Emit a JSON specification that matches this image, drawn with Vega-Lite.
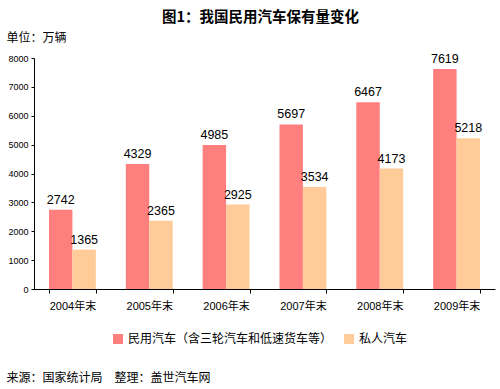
{
  "$schema": "https://vega.github.io/schema/vega-lite/v6.json",
  "width": 461,
  "height": 231,
  "autosize": {"type": "none"},
  "padding": {"left": 34, "top": 58, "right": 5, "bottom": 100},
  "background": "white",
  "config": {
    "font": "Liberation Sans, Noto Sans CJK SC",
    "view": {"stroke": null}
  },
  "title": {
    "text": "图1：我国民用汽车保有量变化",
    "anchor": "start",
    "dx": 156,
    "offset": 6,
    "fontSize": 14.5,
    "fontWeight": "bold",
    "font": "Noto Sans CJK SC",
    "color": "#000000"
  },
  "data": {
    "values": [
      {"year": "2004年末", "series": "民用汽车（含三轮汽车和低速货车等）", "value": 2742},
      {"year": "2004年末", "series": "私人汽车", "value": 1365},
      {"year": "2005年末", "series": "民用汽车（含三轮汽车和低速货车等）", "value": 4329},
      {"year": "2005年末", "series": "私人汽车", "value": 2365},
      {"year": "2006年末", "series": "民用汽车（含三轮汽车和低速货车等）", "value": 4985},
      {"year": "2006年末", "series": "私人汽车", "value": 2925},
      {"year": "2007年末", "series": "民用汽车（含三轮汽车和低速货车等）", "value": 5697},
      {"year": "2007年末", "series": "私人汽车", "value": 3534},
      {"year": "2008年末", "series": "民用汽车（含三轮汽车和低速货车等）", "value": 6467},
      {"year": "2008年末", "series": "私人汽车", "value": 4173},
      {"year": "2009年末", "series": "民用汽车（含三轮汽车和低速货车等）", "value": 7619},
      {"year": "2009年末", "series": "私人汽车", "value": 5218}
    ]
  },
  "encoding": {
    "x": {
      "field": "year",
      "type": "nominal",
      "scale": {"paddingInner": 0.39, "paddingOuter": 0.195},
      "axis": {
        "title": "来源：国家统计局　整理：盖世汽车网",
        "titleAnchor": "start",
        "titleAlign": "left",
        "titleBaseline": "middle",
        "titleX": -28,
        "titleY": 88,
        "titleFontSize": 12,
        "titleFontWeight": "normal",
        "titleFont": "Noto Sans CJK SC",
        "titleColor": "#000000",
        "labelAngle": 0,
        "labelFontSize": 11,
        "labelColor": "#000000",
        "labelPadding": 7,
        "tickBand": "extent",
        "tickSize": 4,
        "tickColor": "#000000",
        "domainColor": "#000000",
        "grid": false
      }
    },
    "xOffset": {"field": "series", "type": "nominal", "sort": ["民用汽车（含三轮汽车和低速货车等）", "私人汽车"]},
    "y": {
      "field": "value",
      "type": "quantitative",
      "scale": {"domain": [0, 8000]},
      "axis": {
        "title": "单位：万辆",
        "titleAngle": 0,
        "titleAnchor": "start",
        "titleAlign": "left",
        "titleBaseline": "middle",
        "titleX": -28,
        "titleY": -21,
        "titleFontSize": 12,
        "titleFontWeight": "normal",
        "titleFont": "Noto Sans CJK SC",
        "titleColor": "#000000",
        "values": [0, 1000, 2000, 3000, 4000, 5000, 6000, 7000, 8000],
        "format": "d",
        "labelFontSize": 9,
        "labelColor": "#000000",
        "labelPadding": 3,
        "tickSize": 3,
        "tickColor": "#000000",
        "domainColor": "#000000",
        "grid": false
      }
    }
  },
  "layer": [
    {
      "mark": {"type": "bar"},
      "encoding": {
        "color": {
          "field": "series",
          "type": "nominal",
          "sort": ["民用汽车（含三轮汽车和低速货车等）", "私人汽车"],
          "scale": {"range": ["#FF7F7F", "#FFCC99"]},
          "legend": {
            "title": null,
            "orient": "none",
            "direction": "horizontal",
            "legendX": 78,
            "legendY": 275,
            "symbolType": "square",
            "symbolSize": 100,
            "symbolStrokeWidth": 0,
            "symbolOpacity": 1,
            "labelFontSize": 12,
            "labelFont": "Noto Sans CJK SC",
            "labelColor": "#000000",
            "columnPadding": 10,
            "labelLimit": 300
          }
        }
      }
    },
    {
      "mark": {"type": "text", "baseline": "bottom", "dy": -3, "fontSize": 12.5, "color": "#000000"},
      "encoding": {
        "text": {"field": "value", "type": "quantitative", "format": "d"}
      }
    }
  ]
}
